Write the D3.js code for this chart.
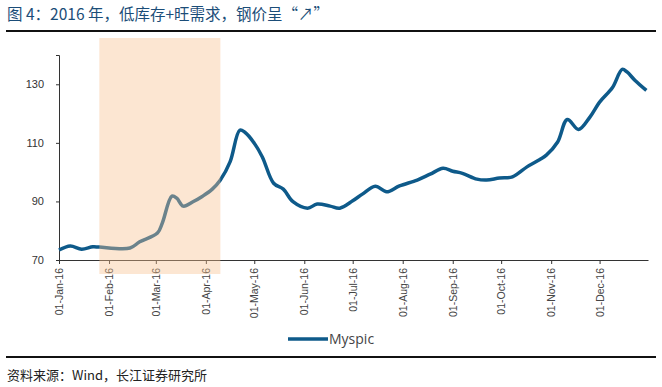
<!DOCTYPE html>
<html>
<head>
<meta charset="utf-8">
<script src="https://cdn.jsdelivr.net/npm/d3@7"></script>
<style>
  body { margin: 0; background: #fff; }
  svg { display: block; }
</style>
</head>
<body>
<div id="chart"></div>
<script>
// Myspic steel price index, 2016
let dates = ['2016-01-01', '2016-01-08', '2016-01-15', '2016-01-22', '2016-01-26', '2016-02-14',
  '2016-02-20', '2016-03-02', '2016-03-05', '2016-03-11', '2016-03-14', '2016-03-18', '2016-03-24',
  '2016-03-30', '2016-04-05', '2016-04-10', '2016-04-16', '2016-04-22', '2016-04-25', '2016-05-01',
  '2016-05-06', '2016-05-13', '2016-05-19', '2016-05-25', '2016-06-03', '2016-06-09', '2016-06-17',
  '2016-06-23', '2016-07-01', '2016-07-07', '2016-07-15', '2016-07-22', '2016-07-30', '2016-08-10',
  '2016-08-18', '2016-08-26', '2016-09-01', '2016-09-07', '2016-09-16', '2016-09-22', '2016-09-30',
  '2016-10-08', '2016-10-17', '2016-10-25', '2016-10-29', '2016-11-05', '2016-11-11', '2016-11-18',
  '2016-11-25', '2016-12-01', '2016-12-09', '2016-12-15', '2016-12-18', '2016-12-23', '2016-12-30']
let myspic = [73.4, 74.8, 73.7, 74.5, 74.4, 74.1,
  76.2, 79.2, 82.6, 91.8, 91.1, 88.4, 89.9,
  91.8, 94.2, 97.3, 103.5, 114.3, 113.7, 109.9,
  105.2, 96.2, 94.2, 89.9, 87.7, 89.1, 88.4,
  87.7, 90.2, 92.5, 95.2, 93.3, 95.3, 97.3,
  99.3, 101.3, 100.3, 99.6, 97.6, 97.3, 98.0,
  98.4, 101.8, 104.3, 105.8, 110.3, 118.0, 114.6,
  118.8, 123.9, 128.9, 135.1, 134.2, 131.3, 127.9]
let yTicks = [70, 90, 110, 130]
let shadeRange = ['2016-01-26', '2016-04-10']

let parse = d3.timeParse('%Y-%m-%d')
let data = dates.map(function(d, i) { return {date: parse(d), value: myspic[i]} })

let W = 662, H = 387
let svg = d3.select('#chart').append('svg')
  .attr('width', W).attr('height', H)

// title
svg.append('text')
  .attr('x', 7).attr('y', 20)
  .style('font-family', '"Noto Sans CJK SC", sans-serif')
  .style('font-size', '15.5px')
  .style('fill', '#1b4d78')
  .text('图 4：2016 年，低库存+旺需求，钢价呈“↗”')

svg.append('line')
  .attr('x1', 6).attr('x2', 656).attr('y1', 31).attr('y2', 31)
  .attr('stroke', '#111').attr('stroke-width', 2)

let x = d3.scaleTime()
  .domain([parse('2016-01-01'), parse('2016-12-31')])
  .range([59, 648])
let y = d3.scaleLinear().domain([70, 140]).range([260, 55])

let g = svg.append('g')

// y axis
let yAxis = g.append('g')
  .attr('transform', 'translate(59,0)')
  .call(d3.axisLeft(y).tickValues(yTicks).tickSize(3).tickPadding(12))
yAxis.select('.domain').attr('stroke', '#333')
yAxis.selectAll('.tick line').attr('stroke', '#333')
yAxis.selectAll('text')
  .style('font-family', '"Liberation Sans", Arial, sans-serif')
  .style('font-size', '11px').style('fill', '#333')

// x axis
let months = d3.timeMonth.range(parse('2016-01-01'), parse('2016-12-02'))
let xAxis = g.append('g')
  .attr('transform', 'translate(0,260)')
  .call(d3.axisBottom(x).tickValues(months).tickSize(4).tickSizeOuter(0)
    .tickFormat(d3.timeFormat('%d-%b-%y')))
xAxis.select('.domain').attr('stroke', '#333')
xAxis.selectAll('.tick line').attr('stroke', '#333')
xAxis.selectAll('text')
  .style('font-family', '"Liberation Sans", Arial, sans-serif')
  .style('font-size', '10.5px').style('fill', '#444')
  .attr('text-anchor', 'end')
  .attr('transform', 'rotate(-90)')
  .attr('x', -8).attr('y', 0).attr('dy', '0.35em')

// line
let line = d3.line()
  .curve(d3.curveCatmullRom.alpha(0.5))
  .x(function(d) { return x(d.date) })
  .y(function(d) { return y(d.value) })

g.append('path')
  .datum(data)
  .attr('d', line)
  .attr('fill', 'none')
  .attr('stroke', '#0e5a8a')
  .attr('stroke-width', 3.5)
  .attr('stroke-linejoin', 'round')

// shaded period drawn over the line
g.append('rect')
  .attr('x', x(parse(shadeRange[0])))
  .attr('width', x(parse(shadeRange[1])) - x(parse(shadeRange[0])))
  .attr('y', 38).attr('height', 236)
  .attr('fill', '#f7c08e').attr('opacity', 0.4)

// legend
svg.append('line')
  .attr('x1', 288).attr('x2', 328).attr('y1', 339).attr('y2', 339)
  .attr('stroke', '#0e5a8a').attr('stroke-width', 3.5)
svg.append('text')
  .attr('x', 329).attr('y', 344)
  .style('font-family', '"Open Sans", sans-serif')
  .style('font-size', '14px').style('fill', '#444')
  .text('Myspic')

svg.append('line')
  .attr('x1', 6).attr('x2', 656).attr('y1', 357).attr('y2', 357)
  .attr('stroke', '#111').attr('stroke-width', 2)

// source
svg.append('text')
  .attr('x', 7).attr('y', 380)
  .style('font-family', '"Noto Sans CJK SC", sans-serif')
  .style('font-size', '13px').style('fill', '#222')
  .text('资料来源：Wind，长江证券研究所')
</script>
</body>
</html>
